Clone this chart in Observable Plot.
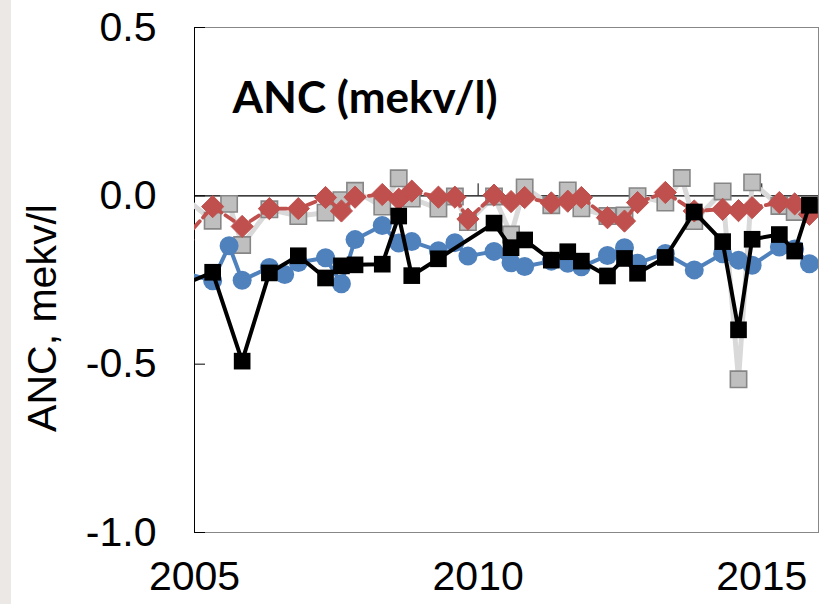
<!DOCTYPE html>
<html>
<head>
<meta charset="utf-8">
<script src="https://cdn.jsdelivr.net/npm/d3@7"></script>
<script src="https://cdn.jsdelivr.net/npm/@observablehq/plot@0.6"></script>
<style>
html, body { margin: 0; padding: 0; background: #fff; }
#chart { position: relative; width: 825px; height: 604px;
  background: linear-gradient(to right, #ebe8e5 0, #ebe8e5 11px, #ffffff 11px); }
</style>
</head>
<body>
<div id="chart"></div>
<script>
// ---- data ----
const titleText = "ANC (mekv/l)";
const yLabelText = "ANC, mekv/l";
const xTicks = [2005, 2010, 2015];
const yTicks = [0.5, 0.0, -0.5, -1.0];
const xDomain = [2005, 2016];
const yDomain = [-1.0, 0.5];

// sampling dates (first one lies just before the visible range)
const dates = [2004.8,
  2005.32, 2005.61, 2005.84, 2006.32, 2006.59, 2006.83, 2007.31, 2007.59, 2007.83,
  2008.31, 2008.60, 2008.83, 2009.30, 2009.59, 2009.82, 2010.28, 2010.58, 2010.82,
  2011.29, 2011.58, 2011.82, 2012.28, 2012.58, 2012.81, 2013.30, 2013.59, 2013.81,
  2014.31, 2014.59, 2014.83, 2015.31, 2015.58, 2015.84];

const graySeries = [-0.002,
  -0.074, -0.024, -0.146, -0.040, null, -0.060, -0.050, -0.013, 0.015,
  -0.032, 0.052, -0.008, -0.038, -0.002, -0.078, -0.002, -0.115, 0.025,
  -0.028, 0.016, -0.037, -0.060, -0.058, -0.001, -0.020, 0.053, -0.075,
  0.013, -0.545, 0.040, -0.030, -0.048, -0.035];

const redSeries = [-0.131,
  -0.032, null, -0.091, -0.038, null, -0.038, -0.005, -0.045, -0.004,
  0.004, -0.010, 0.014, -0.004, -0.004, -0.069, 0.002, -0.017, -0.005,
  -0.021, -0.016, -0.005, -0.065, -0.075, -0.020, 0.010, null, -0.045,
  -0.040, -0.044, -0.035, -0.020, -0.024, -0.055];

const blueSeries = [-0.228,
  -0.252, -0.148, -0.251, -0.213, -0.234, -0.198, -0.184, -0.261, -0.130,
  -0.088, -0.140, -0.136, -0.163, -0.139, -0.179, -0.165, -0.199, -0.210,
  -0.194, -0.200, -0.211, -0.177, -0.154, -0.200, -0.171, null, -0.220,
  -0.172, -0.191, -0.206, -0.152, -0.158, -0.202];

const blackSeries = [-0.264,
  -0.227, null, -0.491, -0.229, null, -0.178, -0.244, -0.208, -0.205,
  -0.203, -0.060, -0.237, -0.187, null, null, -0.081, -0.154, -0.131,
  -0.191, -0.166, -0.194, -0.238, -0.186, -0.230, -0.183, null, -0.048,
  -0.136, -0.398, -0.129, -0.115, -0.164, -0.028];

const toRows = (vals) => dates.map((d, i) => ({x: d, y: vals[i]})).filter(r => r.y != null);
const gray = toRows(graySeries);
const red = toRows(redSeries);
const blue = toRows(blueSeries);
const black = toRows(blackSeries);

// ---- layout ----
const W = 825, H = 604;
const mL = 194, mR = 7, mT = 27, mB = 72;
const plotW = W - mL - mR, plotH = H - mT - mB;
const font = "'Liberation Sans', Arial, sans-serif";
const zeroFromTop = plotH * (yDomain[1] / (yDomain[1] - yDomain[0]));

const chart = Plot.plot({
  width: W, height: H,
  marginLeft: mL, marginRight: mR, marginTop: mT, marginBottom: mB,
  style: {background: "transparent", fontFamily: font},
  x: {domain: xDomain, label: null},
  y: {domain: yDomain, label: null},
  marks: [
    Plot.frame({stroke: "#888888", strokeWidth: 1}),
    Plot.ruleX([xDomain[0]], {stroke: "#000", strokeWidth: 1}),
    Plot.ruleY(yTicks, {stroke: "#000", strokeWidth: 1, insetRight: plotW - 11}),
    Plot.ruleY([0], {stroke: "#000", strokeWidth: 1.2}),
    Plot.ruleX(xTicks, {y1: yDomain[1], y2: 0, insetTop: zeroFromTop - 12, stroke: "#000", strokeWidth: 1}),
    Plot.axisY({ticks: yTicks, tickSize: 0, tickPadding: 38, tickFormat: d => d.toFixed(1), fontSize: 41, fill: "#000", label: null}),
    Plot.axisX({ticks: xTicks, tickSize: 0, tickPadding: 28, tickFormat: d => String(d), fontSize: 41, fill: "#000", label: null}),

    // grey series
    Plot.line(gray, {x: "x", y: "y", stroke: "#d9d9d9", strokeWidth: 5, clip: true}),
    Plot.dot(gray, {x: "x", y: "y", symbol: "square", r: 9.2, fill: "#bfbfbf", stroke: "#868686", strokeWidth: 1.6, clip: true}),
    // red series
    Plot.line(red, {x: "x", y: "y", stroke: "#c0504d", strokeWidth: 3.8, strokeDasharray: "10,5", clip: true}),
    Plot.dot(red, {x: "x", y: "y", symbol: "diamond2", r: 10, fill: "#c0504d", stroke: "#c0504d", strokeWidth: 1, clip: true}),
    // blue series
    Plot.line(blue, {x: "x", y: "y", stroke: "#4f81bd", strokeWidth: 4, clip: true}),
    Plot.dot(blue, {x: "x", y: "y", symbol: "circle", r: 9.5, fill: "#4f81bd", clip: true}),
    // black series
    Plot.line(black, {x: "x", y: "y", stroke: "#000", strokeWidth: 4, clip: true}),
    Plot.dot(black, {x: "x", y: "y", symbol: "square", r: 9.4, fill: "#000", clip: true}),

    // in-plot title
    Plot.text([titleText], {frameAnchor: "top-left", dx: 38, dy: 71, text: d => d,
      textAnchor: "start", lineAnchor: "middle", fontSize: 44, fontWeight: "bold",
      fontFamily: "Lato, 'Open Sans', sans-serif", fill: "#000"}),
    // y-axis title
    Plot.text([yLabelText], {frameAnchor: "left", dx: -152, dy: 38, rotate: -90, text: d => d,
      textAnchor: "middle", lineAnchor: "middle", fontSize: 41, fill: "#000"})
  ]
});
document.getElementById("chart").appendChild(chart);
</script>
</body>
</html>
